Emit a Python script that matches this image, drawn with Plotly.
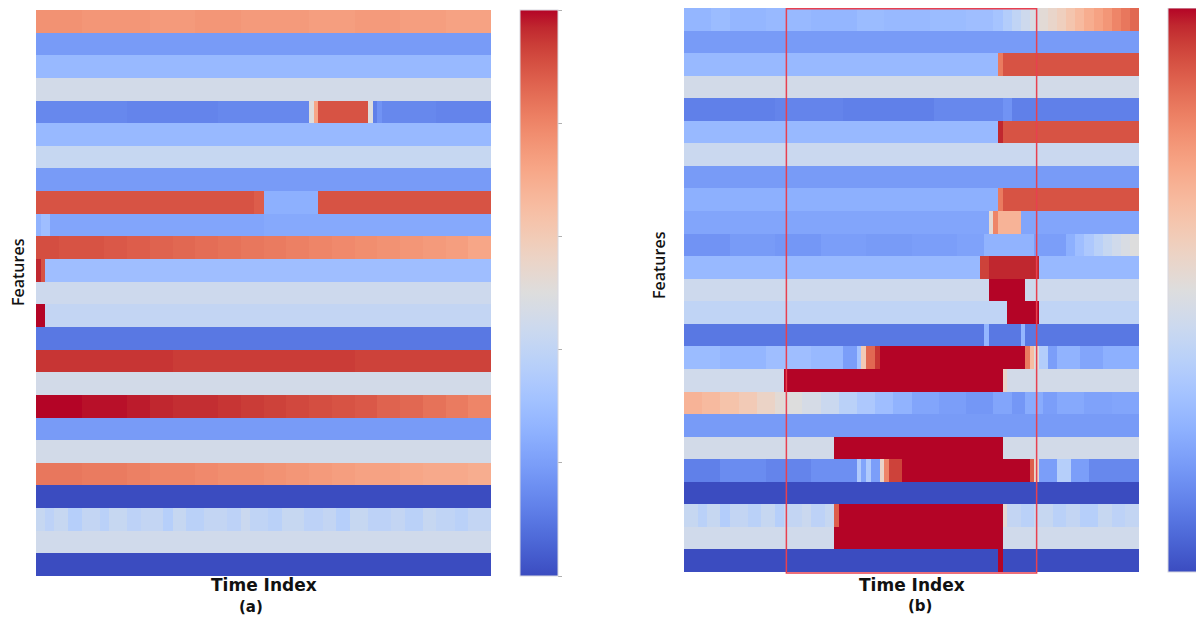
import plotly.graph_objects as go

# ---------------- data ----------------
N_TIME = 100
time_index = list(range(N_TIME))
features = [f"F{i}" for i in range(1, 26)]

# each row: run-length pairs (value, number of time steps)
rows_a = [
    [(0.77, 10), (0.76, 15), (0.75, 10), (0.76, 10), (0.75, 15), (0.74, 10), (0.75, 10), (0.74, 10), (0.73, 10)],
    [(0.19, 100)],
    [(0.28, 100)],
    [(0.46, 100)],
    [(0.14, 20), (0.13, 20), (0.14, 20), (0.5, 1), (0.72, 1), (0.9, 11), (0.5, 1), (0.12, 1), (0.17, 1), (0.14, 12), (0.13, 12)],
    [(0.28, 100)],
    [(0.42, 100)],
    [(0.19, 100)],
    [(0.9, 48), (0.88, 2), (0.25, 12), (0.9, 38)],
    [(0.26, 1), (0.3, 2), (0.22, 47), (0.23, 50)],
    [(0.91, 5), (0.9, 5), (0.9, 5), (0.89, 5), (0.88, 5), (0.87, 5), (0.86, 5), (0.85, 5), (0.84, 5), (0.83, 5),
     (0.82, 5), (0.81, 5), (0.8, 5), (0.79, 5), (0.78, 5), (0.77, 5), (0.76, 5), (0.75, 5), (0.74, 5), (0.72, 5)],
    [(0.97, 1), (0.9, 1), (0.3, 98)],
    [(0.44, 100)],
    [(1.0, 2), (0.41, 98)],
    [(0.1, 100)],
    [(0.95, 30), (0.94, 40), (0.93, 30)],
    [(0.46, 100)],
    [(1.0, 5), (1.0, 5), (0.99, 5), (0.99, 5), (0.98, 5), (0.97, 5), (0.96, 5), (0.96, 5), (0.95, 5), (0.94, 5),
     (0.93, 5), (0.92, 5), (0.91, 5), (0.9, 5), (0.89, 5), (0.87, 5), (0.86, 5), (0.84, 5), (0.82, 5), (0.8, 5)],
    [(0.19, 100)],
    [(0.46, 100)],
    [(0.83, 5), (0.83, 5), (0.82, 5), (0.82, 5), (0.81, 5), (0.8, 5), (0.8, 5), (0.79, 5), (0.78, 5), (0.78, 5),
     (0.77, 5), (0.76, 5), (0.75, 5), (0.74, 5), (0.73, 5), (0.73, 5), (0.72, 5), (0.71, 5), (0.71, 5), (0.7, 5)],
    [(0.0, 100)],
    [(0.42, 2), (0.39, 2), (0.42, 3), (0.37, 3), (0.41, 4), (0.38, 2), (0.42, 4), (0.39, 3), (0.41, 5), (0.37, 2),
     (0.42, 3), (0.38, 4), (0.41, 5), (0.39, 3), (0.43, 2), (0.40, 4), (0.38, 3), (0.42, 5), (0.39, 4), (0.41, 3),
     (0.37, 3), (0.42, 4), (0.39, 5), (0.41, 3), (0.38, 4), (0.42, 3), (0.40, 4), (0.38, 3), (0.41, 5)],
    [(0.45, 100)],
    [(0.0, 100)],
]

rows_b = [
    [(0.27, 6), (0.29, 4), (0.27, 8), (0.28, 10), (0.27, 10), (0.29, 6), (0.28, 10), (0.29, 8), (0.30, 6),
     (0.32, 2), (0.36, 2), (0.40, 2), (0.44, 2), (0.48, 2), (0.52, 2), (0.55, 2), (0.58, 2), (0.62, 2),
     (0.66, 2), (0.7, 2), (0.73, 2), (0.76, 2), (0.8, 2), (0.83, 2), (0.86, 2)],
    [(0.19, 100)],
    [(0.28, 69), (0.82, 1), (0.9, 30)],
    [(0.46, 100)],
    [(0.12, 20), (0.13, 15), (0.12, 20), (0.14, 15), (0.17, 2), (0.12, 28)],
    [(0.28, 69), (0.97, 1), (0.9, 30)],
    [(0.43, 100)],
    [(0.19, 100)],
    [(0.25, 69), (0.82, 1), (0.9, 30)],
    [(0.22, 67), (0.53, 1), (0.8, 1), (0.68, 5), (0.22, 26)],
    [(0.17, 10), (0.19, 10), (0.18, 10), (0.2, 10), (0.19, 10), (0.2, 10), (0.21, 6), (0.26, 11), (0.2, 7),
     (0.25, 2), (0.3, 2), (0.34, 2), (0.38, 2), (0.42, 2), (0.45, 2), (0.48, 2), (0.5, 2)],
    [(0.28, 65), (0.93, 2), (0.97, 11), (0.28, 22)],
    [(0.44, 67), (1.0, 8), (0.44, 25)],
    [(0.4, 71), (1.0, 7), (0.4, 22)],
    [(0.1, 66), (0.27, 1), (0.1, 7), (0.27, 1), (0.1, 25)],
    [(0.29, 8), (0.27, 10), (0.3, 10), (0.28, 7), (0.2, 3), (0.32, 1), (0.6, 1), (0.86, 2), (0.95, 1), (1.0, 32),
     (0.82, 1), (0.65, 1), (0.5, 1), (0.36, 2), (0.2, 2), (0.26, 5), (0.22, 5), (0.25, 8)],
    [(0.45, 22), (1.0, 48), (0.55, 1), (0.46, 29)],
    [(0.68, 4), (0.66, 4), (0.63, 4), (0.6, 4), (0.56, 4), (0.52, 2), (0.5, 4), (0.47, 4), (0.43, 4), (0.38, 4),
     (0.34, 4), (0.3, 4), (0.26, 4), (0.22, 6), (0.2, 6), (0.18, 6), (0.22, 4), (0.18, 3), (0.24, 4), (0.2, 3),
     (0.23, 6), (0.21, 6), (0.22, 6)],
    [(0.19, 100)],
    [(0.46, 33), (1.0, 37), (0.46, 30)],
    [(0.12, 8), (0.15, 10), (0.13, 10), (0.16, 10), (0.35, 1), (0.22, 1), (0.35, 1), (0.2, 2), (0.55, 1), (0.8, 1),
     (0.93, 3), (1.0, 28), (0.88, 1), (0.55, 1), (0.2, 4), (0.37, 3), (0.2, 4), (0.14, 11)],
    [(0.0, 100)],
    [(0.42, 3), (0.38, 2), (0.42, 3), (0.36, 2), (0.41, 4), (0.38, 3), (0.42, 3), (0.37, 2), (0.41, 4), (0.43, 2),
     (0.39, 3), (0.42, 2), (0.88, 1), (1.0, 36), (0.52, 1), (0.41, 3), (0.38, 3), (0.42, 4), (0.38, 3), (0.41, 3),
     (0.37, 4), (0.42, 3), (0.39, 3), (0.41, 3)],
    [(0.45, 33), (1.0, 37), (0.45, 30)],
    [(0.0, 69), (1.0, 1), (0.0, 30)],
]

highlight_start = 22.0   # time index where the highlighted window begins (panel b)
highlight_end = 77.0     # time index where it ends

colorbar_ticks = [0.0, 0.2, 0.4, 0.6, 0.8, 1.0]

# matplotlib-like "coolwarm" colour scale
coolwarm_rgb = [
    (59, 76, 192), (68, 90, 204), (77, 104, 215), (87, 117, 225), (98, 130, 234), (108, 142, 241),
    (119, 154, 247), (130, 165, 251), (141, 176, 254), (152, 185, 255), (163, 194, 255), (174, 201, 253),
    (184, 208, 249), (194, 213, 244), (204, 217, 238), (213, 219, 230), (221, 221, 221), (229, 216, 209),
    (236, 211, 197), (241, 204, 184), (245, 196, 172), (247, 187, 160), (247, 177, 148), (247, 166, 135),
    (244, 154, 123), (241, 141, 111), (236, 127, 99), (229, 112, 88), (222, 96, 77), (213, 80, 66),
    (203, 62, 56), (192, 40, 47), (180, 4, 38),
]


def expand(runs):
    out = []
    for v, c in runs:
        out.extend([v] * c)
    return out[:N_TIME]


z_a = [expand(r) for r in rows_a]
z_b = [expand(r) for r in rows_b]
n = len(coolwarm_rgb) - 1
colorscale = [[i / n, f"rgb({r},{g},{b})"] for i, (r, g, b) in enumerate(coolwarm_rgb)]

# page has an 8px body margin; the figure is sized to fit the 1204x618 window
OFF = 8
W, H = 1204 - OFF, 618 - OFF


def px_x(p):
    return min(1.0, max(0.0, (p - OFF) / W))


def px_y(p):
    return min(1.0, max(0.0, 1 - (p - OFF) / H))


fig = go.Figure()

cb_common = dict(
    thicknessmode="pixels", lenmode="fraction",
    xanchor="left", yanchor="bottom", xpad=0, ypad=0,
    outlinewidth=1, outlinecolor="#d8d8e0",
    tickmode="array", tickvals=colorbar_ticks, ticklen=4,
    tickcolor="#b0b0b0", tickwidth=1, showticklabels=False,
)

fig.add_trace(go.Heatmap(
    z=z_a, x=time_index, y=features, colorscale=colorscale, zmin=0, zmax=1,
    xaxis="x", yaxis="y", zsmooth=False,
    colorbar=dict(x=px_x(520), y=px_y(576), len=(576 - 10) / H, thickness=38, ticks="outside", **cb_common),
))
fig.add_trace(go.Heatmap(
    z=z_b, x=time_index, y=features, colorscale=colorscale, zmin=0, zmax=1,
    xaxis="x2", yaxis="y2", zsmooth=False,
    colorbar=dict(x=px_x(1168), y=px_y(572), len=(572 - 8) / H, thickness=34, ticks="", **cb_common),
))

ax_common = dict(showticklabels=False, showgrid=False, zeroline=False, ticks="", showline=False)

fig.update_layout(
    width=W, height=H,
    margin=dict(l=0, r=0, t=0, b=0, autoexpand=False),
    paper_bgcolor="white", plot_bgcolor="white",
    xaxis=dict(domain=[px_x(36), px_x(491)], range=[-0.5, N_TIME - 0.5], anchor="y", **ax_common),
    yaxis=dict(domain=[px_y(576), px_y(10)], autorange="reversed", anchor="x", **ax_common),
    xaxis2=dict(domain=[px_x(684), px_x(1139)], range=[-0.5, N_TIME - 0.5], anchor="y2", **ax_common),
    yaxis2=dict(domain=[px_y(572), px_y(8)], autorange="reversed", anchor="x2", **ax_common),
    showlegend=False,
)

# highlighted window in panel (b)
fig.add_shape(type="rect", xref="x2", yref="paper",
              x0=highlight_start, x1=highlight_end, y0=px_y(573), y1=px_y(8.8),
              line=dict(color="#e8404f", width=1.5), fillcolor="rgba(0,0,0,0)")

label_font = dict(family="Open Sans", size=16, color="#111111", weight=600)
title_font = dict(family="DejaVu Sans", size=17, color="#111111")
sub_font = dict(family="DejaVu Sans", size=15, color="#111111")

annos = [
    dict(text="Features", x=px_x(18), y=px_y(272), textangle=-90, font=label_font),
    dict(text="Features", x=px_x(659), y=px_y(265), textangle=-90, font=label_font),
    dict(text="<b>Time Index</b>", x=px_x(264), y=px_y(585), font=title_font),
    dict(text="<b>Time Index</b>", x=px_x(912), y=px_y(585), font=title_font),
    dict(text="<b>(a)</b>", x=px_x(251), y=px_y(607), font=sub_font),
    dict(text="<b>(b)</b>", x=px_x(920), y=px_y(606), font=sub_font),
]
for a in annos:
    fig.add_annotation(xref="paper", yref="paper", showarrow=False,
                       xanchor="center", yanchor="middle", **a)

fig.write_html("out.html")
